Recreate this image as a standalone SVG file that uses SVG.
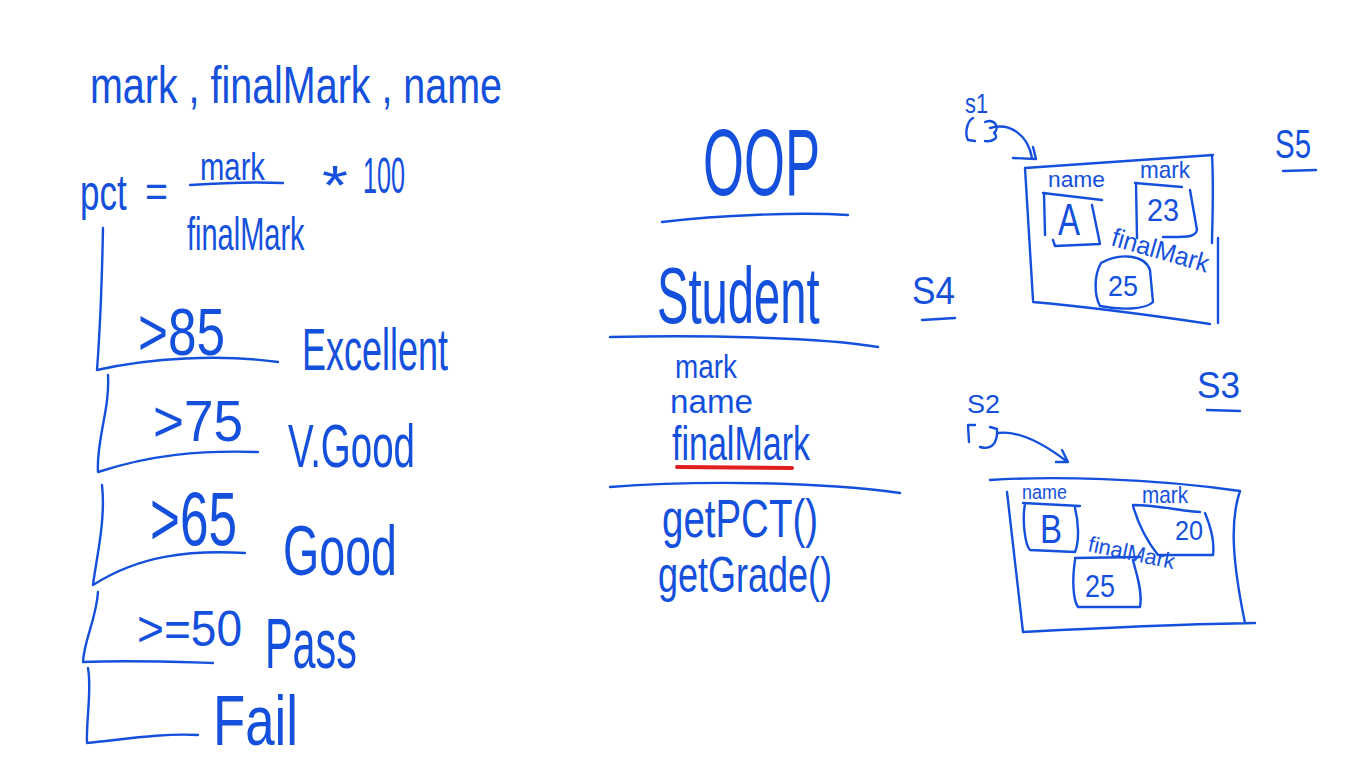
<svg xmlns="http://www.w3.org/2000/svg" width="1366" height="768" viewBox="0 0 1366 768">
<style>
text{font-family:"Liberation Sans","DejaVu Sans",sans-serif;fill:#1450dc}
.s{fill:none;stroke:#1450dc;stroke-width:2.4;stroke-linecap:round;stroke-linejoin:round}
.r{fill:none;stroke:#e02020;stroke-width:4;stroke-linecap:round}
</style>
<rect width="1366" height="768" fill="#ffffff"/>
<g id="formula">
<text x="90" y="103" font-size="52" textLength="412" lengthAdjust="spacingAndGlyphs">mark , finalMark , name</text>
<text transform="translate(80,210) scale(0.7,1)" font-size="50">pct</text>
<text x="145" y="207" font-size="44" textLength="23" lengthAdjust="spacingAndGlyphs">=</text>
<text x="200" y="180" font-size="38" textLength="65" lengthAdjust="spacingAndGlyphs">mark</text>
<path class="s" d="M190,185 C220,183 260,182 283,183"/>
<text transform="translate(187,250) scale(0.63,1)" font-size="46">finalMark</text>
<text x="322" y="204" font-size="56" textLength="26" lengthAdjust="spacingAndGlyphs">*</text>
<text x="363" y="193" font-size="50" textLength="42" lengthAdjust="spacingAndGlyphs">100</text>
</g>
<g id="connectors">
<path class="s" d="M103,228 C102,280 100,330 97,370 C150,358 220,354 278,362"/>
<path class="s" d="M108,375 C110,410 96,440 98,472 C150,455 200,450 258,452"/>
<path class="s" d="M102,485 C106,520 96,560 93,585 C140,555 190,550 245,553"/>
<path class="s" d="M98,592 C96,620 84,640 83,662 C130,660 180,662 213,663"/>
<path class="s" d="M88,668 C92,690 86,720 87,743 C120,740 160,733 198,735"/>
<path class="s" d="M990,128 C1010,122 1028,135 1032,158"/>
<path class="s" d="M1013,158 L1036,159 L1033,147"/>
<path class="s" d="M998,433 C1020,430 1045,445 1065,460"/>
<path class="s" d="M1056,462 L1068,462 L1062,450"/>
</g>
<g id="grade-excellent">
<text x="138" y="355" font-size="66" textLength="87" lengthAdjust="spacingAndGlyphs">&gt;85</text>
<text x="302" y="370" font-size="60" textLength="146" lengthAdjust="spacingAndGlyphs">Excellent</text>
</g>
<g id="grade-vgood">
<text x="153" y="441" font-size="58" textLength="90" lengthAdjust="spacingAndGlyphs">&gt;75</text>
<text x="288" y="467" font-size="62" textLength="127" lengthAdjust="spacingAndGlyphs">V.Good</text>
</g>
<g id="grade-good">
<text x="150" y="545" font-size="76" textLength="87" lengthAdjust="spacingAndGlyphs">&gt;65</text>
<text x="283" y="575" font-size="70" textLength="114" lengthAdjust="spacingAndGlyphs">Good</text>
</g>
<g id="grade-pass">
<text x="137" y="646" font-size="50" textLength="105" lengthAdjust="spacingAndGlyphs">&gt;=50</text>
<text x="265" y="668" font-size="70" textLength="92" lengthAdjust="spacingAndGlyphs">Pass</text>
</g>
<g id="grade-fail">
<text x="213" y="745" font-size="70" textLength="85" lengthAdjust="spacingAndGlyphs">Fail</text>
</g>
<g id="class-student">
<text x="703" y="195" font-size="95" textLength="117" lengthAdjust="spacingAndGlyphs">OOP</text>
<path class="s" d="M662,222 C720,215 800,212 848,215"/>
<text transform="translate(657,323) scale(0.59,1)" font-size="80">Student</text>
<path class="s" d="M610,337 C700,335 820,337 878,347"/>
<text x="675" y="378" font-size="34" textLength="62" lengthAdjust="spacingAndGlyphs">mark</text>
<text x="670" y="413" font-size="34" textLength="83" lengthAdjust="spacingAndGlyphs">name</text>
<text x="672" y="460" font-size="48" textLength="138" lengthAdjust="spacingAndGlyphs">finalMark</text>
<path class="r" d="M677,467 L792,468"/>
<path class="s" d="M610,487 C700,480 820,482 900,493"/>
<text x="662" y="537" font-size="54" textLength="156" lengthAdjust="spacingAndGlyphs">getPCT()</text>
<text x="658" y="592" font-size="50" textLength="174" lengthAdjust="spacingAndGlyphs">getGrade()</text>
</g>
<g id="s4">
<text x="912" y="304" font-size="38" textLength="43" lengthAdjust="spacingAndGlyphs">S4</text>
<path class="s" d="M922,320 L955,318"/>
</g>
<g id="s5">
<text x="1275" y="158" font-size="40" textLength="36" lengthAdjust="spacingAndGlyphs">S5</text>
<path class="s" d="M1283,171 L1316,170"/>
</g>
<g id="s3">
<text x="1197" y="398" font-size="36" textLength="43" lengthAdjust="spacingAndGlyphs">S3</text>
<path class="s" d="M1207,410 L1240,411"/>
</g>
<g id="s1-object">
<text x="965" y="113" font-size="28" textLength="23" lengthAdjust="spacingAndGlyphs">s1</text>
<path class="s" d="M973,118 C966,122 965,135 968,140 L975,141"/>
<path class="s" d="M985,122 C995,118 1000,128 994,133 C1000,138 992,142 985,141"/>
<path class="s" d="M1025,168 L1213,155 M1025,168 L1033,300 M1033,302 C1100,308 1170,318 1210,324 M1212,155 C1214,190 1212,230 1212,243 M1218,238 L1218,323"/>
<text x="1048" y="187" font-size="22" textLength="57" lengthAdjust="spacingAndGlyphs">name</text>
<path class="s" d="M1044,193 L1045,235 M1043,193 L1102,200 M1092,205 L1100,244 L1055,246 L1053,240"/>
<text x="1058" y="235" font-size="44" textLength="22" lengthAdjust="spacingAndGlyphs">A</text>
<text x="1140" y="178" font-size="24" textLength="50" lengthAdjust="spacingAndGlyphs">mark</text>
<path class="s" d="M1136,183 L1137,238 M1135,183 L1182,187 M1190,190 L1197,230 C1195,238 1185,237 1163,237"/>
<text x="1147" y="221" font-size="32" textLength="32" lengthAdjust="spacingAndGlyphs">23</text>
<text x="1110" y="245" font-size="26" textLength="100" lengthAdjust="spacingAndGlyphs" transform="rotate(16 1110 245)">finalMark</text>
<path class="s" d="M1101,263 C1120,252 1145,255 1150,270 L1153,302 C1145,310 1120,310 1100,306 C1094,295 1094,275 1101,263"/>
<text x="1108" y="296" font-size="30" textLength="30" lengthAdjust="spacingAndGlyphs">25</text>
</g>
<g id="s2-object">
<text x="967" y="413" font-size="26" textLength="33" lengthAdjust="spacingAndGlyphs">S2</text>
<path class="s" d="M975,425 L968,425 L969,442 M990,427 L997,429 C998,445 990,450 980,447"/>
<path class="s" d="M990,480 C1050,476 1150,478 1240,491 M1007,492 L1023,632 M1023,632 C1100,628 1180,624 1255,623 M1240,491 C1230,520 1232,560 1245,623"/>
<text x="1022" y="499" font-size="20" textLength="45" lengthAdjust="spacingAndGlyphs">name</text>
<path class="s" d="M1023,503 L1080,506 M1025,504 C1022,520 1025,545 1030,550 L1075,552 C1080,540 1078,520 1075,508"/>
<text x="1040" y="543" font-size="40" textLength="22" lengthAdjust="spacingAndGlyphs">B</text>
<text x="1142" y="503" font-size="24" textLength="46" lengthAdjust="spacingAndGlyphs">mark</text>
<path class="s" d="M1133,505 C1160,505 1185,512 1200,512 M1133,506 C1140,530 1150,545 1158,555 L1213,555 C1215,540 1210,525 1205,513"/>
<text x="1175" y="540" font-size="28" textLength="28" lengthAdjust="spacingAndGlyphs">20</text>
<text x="1087" y="551" font-size="22" textLength="88" lengthAdjust="spacingAndGlyphs" transform="rotate(12 1087 551)">finalMark</text>
<path class="s" d="M1075,558 L1140,557 M1075,560 C1072,580 1073,600 1078,607 L1140,607 C1143,590 1135,570 1133,560"/>
<text x="1085" y="597" font-size="32" textLength="30" lengthAdjust="spacingAndGlyphs">25</text>
</g>
</svg>
